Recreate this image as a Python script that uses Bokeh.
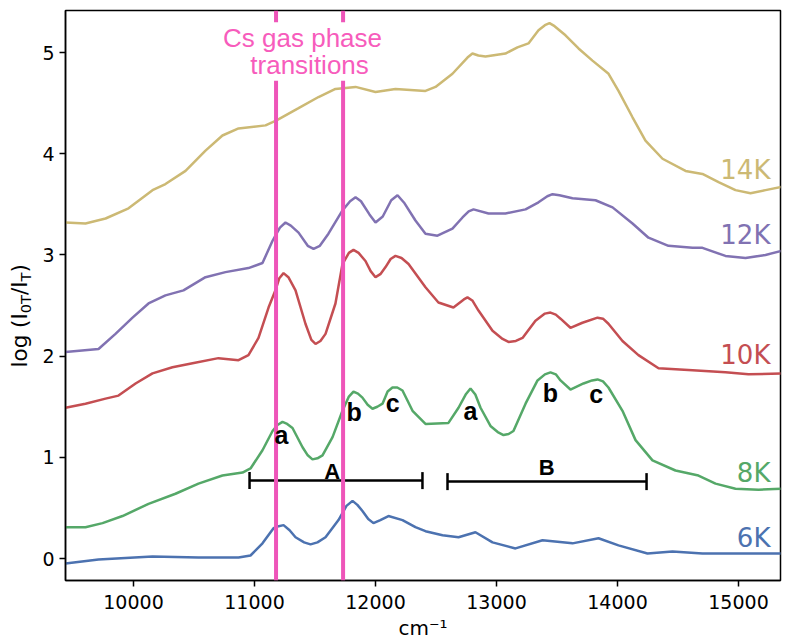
import math
from bokeh.plotting import figure
from bokeh.layouts import row
from bokeh.models import Range1d, Span, Label, FixedTicker
from bokeh.core.properties import value
from bokeh.embed import file_html
from bokeh.resources import INLINE

# ---------------- data (wavenumber in cm^-1, offset absorbance per temperature) ----------------
x_6k = [9438, 9711, 10157, 10537, 10868, 10967, 11066, 11157, 11200, 11240,
        11290, 11339, 11410, 11463, 11520, 11587, 11694, 11760, 11810, 11850,
        11892, 11940, 11983, 12040, 12107, 12223, 12330, 12413, 12554, 12686,
        12826, 12967, 13157, 13380, 13628, 13843, 14008, 14248, 14454, 14702,
        15033, 15388]
y_6k = [-0.05, -0.01, 0.02, 0.01, 0.01, 0.03, 0.15, 0.30, 0.32, 0.33,
        0.28, 0.21, 0.16, 0.14, 0.16, 0.21, 0.38, 0.52, 0.57, 0.53,
        0.47, 0.39, 0.35, 0.38, 0.42, 0.38, 0.31, 0.27, 0.23, 0.21,
        0.26, 0.16, 0.10, 0.18, 0.15, 0.20, 0.13, 0.05, 0.07, 0.05,
        0.05, 0.05]

x_8k = [9438, 9603, 9744, 9909, 10124, 10347, 10537, 10735, 10901, 10967,
        11066, 11149, 11190, 11231, 11270, 11314, 11397, 11440, 11479, 11520,
        11562, 11645, 11727, 11780, 11818, 11855, 11892, 11935, 11975, 12015,
        12058, 12100, 12140, 12180, 12223, 12306, 12413, 12603, 12686, 12745,
        12785, 12825, 12868, 12950, 13010, 13058, 13100, 13140, 13240, 13339,
        13400, 13446, 13490, 13529, 13611, 13719, 13790, 13835, 13880, 13925,
        14041, 14149, 14289, 14479, 14669, 14810, 14975, 15165, 15388]
y_8k = [0.31, 0.31, 0.35, 0.42, 0.54, 0.64, 0.74, 0.82, 0.85, 0.89,
        1.07, 1.26, 1.32, 1.35, 1.33, 1.29, 1.10, 1.02, 0.98, 0.99,
        1.02, 1.20, 1.46, 1.60, 1.65, 1.63, 1.59, 1.52, 1.48, 1.50,
        1.53, 1.65, 1.69, 1.69, 1.66, 1.46, 1.33, 1.34, 1.49, 1.62,
        1.68, 1.62, 1.49, 1.31, 1.25, 1.22, 1.23, 1.26, 1.53, 1.76,
        1.82, 1.84, 1.82, 1.76, 1.67, 1.73, 1.76, 1.77, 1.75, 1.69,
        1.46, 1.17, 0.97, 0.87, 0.82, 0.74, 0.69, 0.68, 0.69]

x_10k = [9438, 9603, 9769, 9876, 10017, 10157, 10322, 10488, 10702, 10868,
         10950, 11033, 11116, 11173, 11205, 11240, 11280, 11339, 11421, 11470,
         11504, 11545, 11587, 11669, 11727, 11780, 11818, 11860, 11917, 11960,
         12000, 12040, 12083, 12125, 12165, 12215, 12273, 12413, 12520, 12644,
         12730, 12760, 12800, 12851, 12967, 13050, 13099, 13160, 13215, 13322,
         13400, 13446, 13490, 13529, 13611, 13710, 13835, 13880, 13925, 14041,
         14173, 14339, 14620, 14892, 15082, 15388]
y_10k = [1.49, 1.53, 1.58, 1.61, 1.73, 1.83, 1.89, 1.93, 1.98, 1.96,
         2.01, 2.18, 2.48, 2.65, 2.77, 2.82, 2.78, 2.65, 2.32, 2.16,
         2.12, 2.15, 2.22, 2.52, 2.91, 3.02, 3.05, 3.02, 2.94, 2.84,
         2.78, 2.81, 2.88, 2.96, 2.99, 2.97, 2.91, 2.68, 2.53, 2.48,
         2.56, 2.58, 2.55, 2.45, 2.25, 2.17, 2.14, 2.15, 2.18, 2.35,
         2.42, 2.43, 2.41, 2.37, 2.28, 2.33, 2.38, 2.37, 2.32, 2.15,
         2.01, 1.88, 1.86, 1.84, 1.82, 1.83]

x_12k = [9438, 9711, 9851, 9992, 10124, 10264, 10413, 10595, 10760, 10950,
         11066, 11149, 11210, 11256, 11300, 11364, 11440, 11488, 11540, 11611,
         11727, 11790, 11835, 11880, 11950, 12000, 12060, 12130, 12182, 12240,
         12330, 12413, 12512, 12636, 12719, 12770, 12810, 12934, 13074, 13240,
         13347, 13420, 13463, 13520, 13628, 13818, 13959, 14124, 14256, 14421,
         14620, 14702, 14892, 15058, 15223, 15388]
y_12k = [2.04, 2.07, 2.22, 2.38, 2.52, 2.60, 2.65, 2.78, 2.83, 2.87,
         2.92, 3.14, 3.27, 3.32, 3.29, 3.22, 3.09, 3.06, 3.09, 3.21,
         3.44, 3.53, 3.57, 3.53, 3.40, 3.32, 3.38, 3.54, 3.59, 3.51,
         3.34, 3.21, 3.19, 3.26, 3.37, 3.43, 3.45, 3.41, 3.41, 3.45,
         3.52, 3.58, 3.60, 3.59, 3.56, 3.54, 3.47, 3.31, 3.17, 3.09,
         3.07, 3.07, 2.99, 2.97, 3.00, 3.05]

x_14k = [9438, 9603, 9769, 9959, 10157, 10264, 10430, 10595, 10735, 10868,
         11091, 11182, 11364, 11529, 11669, 11835, 12000, 12165, 12413, 12496,
         12636, 12760, 12801, 12850, 12909, 13074, 13173, 13264, 13347, 13400,
         13438, 13480, 13570, 13678, 13793, 13926, 14008, 14124, 14231, 14372,
         14562, 14702, 14835, 14975, 15099, 15223, 15388]
y_14k = [3.32, 3.31, 3.36, 3.46, 3.64, 3.70, 3.83, 4.03, 4.18, 4.25,
         4.28, 4.33, 4.45, 4.56, 4.64, 4.66, 4.61, 4.64, 4.62, 4.66,
         4.79, 4.95, 4.99, 4.97, 4.96, 4.99, 5.05, 5.09, 5.22, 5.27,
         5.29, 5.26, 5.17, 5.04, 4.92, 4.79, 4.62, 4.36, 4.13, 3.95,
         3.83, 3.80, 3.72, 3.64, 3.61, 3.64, 3.68]

temp_names = ["6K", "8K", "10K", "12K", "14K"]
temp_colors = ["#4C72B0", "#55A868", "#C44E52", "#8172B2", "#CCB974"]
temp_label_x = 15264
temp_label_y = [0.20, 0.85, 2.01, 3.20, 3.84]

cs_lines = [11178, 11732]          # Cs D1 / D2 gas-phase transitions
cs_text = ["Cs gas phase", "transitions"]
cs_text_x = [11397, 11455]
cs_text_y = [5.141, 4.878]

peak_names = ["a", "b", "c", "a", "b", "c"]
peak_x = [11223, 11823, 12143, 12785, 13446, 13824]
peak_y = [1.219, 1.449, 1.541, 1.456, 1.640, 1.630]

region_names = ["A", "B"]
region_start = [10959, 12595]
region_end = [12388, 14240]
region_y = [0.77, 0.76]
region_label_x = [11642, 13415]
region_label_y = [0.863, 0.895]

x_ticks = [10000, 11000, 12000, 13000, 14000, 15000]
y_ticks = [0, 1, 2, 3, 4, 5]

# ---------------- main figure ----------------
W, H = 785, 644
YLAB_W = 38
p = figure(width=W - YLAB_W, height=H, output_backend="svg", toolbar_location=None,
           x_range=Range1d(9438, 15347), y_range=Range1d(-0.217, 5.415),
           min_border_left=27, min_border_right=5, min_border_top=10, min_border_bottom=64)
p.background_fill_color = "white"
p.border_fill_color = "white"
p.outline_line_color = "black"
p.outline_line_width = 1.5
p.grid.visible = False

for ax in (p.xaxis[0], p.yaxis[0]):
    ax.axis_line_width = 1.5
    ax.axis_line_color = "black"
    ax.major_tick_line_width = 1.5
    ax.major_tick_line_color = "black"
    ax.major_tick_out = 6
    ax.major_tick_in = 0
    ax.minor_tick_line_color = None
    ax.major_label_text_font = "DejaVu Sans"
    ax.major_label_text_font_size = "19px"
    ax.major_label_text_color = "black"
p.xaxis.ticker = FixedTicker(ticks=x_ticks)
p.yaxis.ticker = FixedTicker(ticks=y_ticks)
p.xaxis.major_label_standoff = 8
p.yaxis.major_label_standoff = 5
p.xaxis.axis_label = "cm\u207b\u00b9"
p.xaxis.axis_label_text_font = "DejaVu Sans"
p.xaxis.axis_label_text_font_size = "20px"
p.xaxis.axis_label_text_font_style = "normal"
p.xaxis.axis_label_text_color = "black"
p.xaxis.axis_label_standoff = 4

# curves
for xs, ys, c in zip([x_6k, x_8k, x_10k, x_12k, x_14k],
                     [y_6k, y_8k, y_10k, y_12k, y_14k], temp_colors):
    p.line(xs, ys, line_color=c, line_width=2.5)

# temperature labels
p.text(x=[temp_label_x] * len(temp_names), y=temp_label_y, text=temp_names,
       text_color=temp_colors, text_font=value("DejaVu Sans"), text_font_size="26px",
       text_align="right", text_baseline="middle")

# region bars A / B
p.segment(x0=region_start, y0=region_y, x1=region_end, y1=region_y,
          line_color="black", line_width=2.5)
p.scatter(x=region_start + region_end, y=region_y + region_y, marker="dash",
          angle=math.pi / 2, size=17, line_color="black", line_width=2.5)

# Cs gas phase lines with their label (white box interrupts the lines)
pink = "#EE55B9"
for loc in cs_lines:
    p.add_layout(Span(location=loc, dimension="height", line_color=pink, line_width=4))
for txt, lx, ly in reversed(list(zip(cs_text, cs_text_x, cs_text_y))):
    p.add_layout(Label(x=lx, y=ly, text=txt, text_font="Liberation Sans",
                       text_font_size="26px", text_color="#F75CBC",
                       text_align="center", text_baseline="middle",
                       background_fill_color="white", background_fill_alpha=1.0,
                       padding=1))

# region letters and peak letters
for txt, lx, ly in zip(region_names, region_label_x, region_label_y):
    p.add_layout(Label(x=lx, y=ly, text=txt, text_font="Liberation Sans",
                       text_font_style="bold", text_font_size="22px", text_color="black",
                       text_align="center", text_baseline="middle"))
for txt, lx, ly in zip(peak_names, peak_x, peak_y):
    p.add_layout(Label(x=lx, y=ly, text=txt, text_font="Liberation Sans",
                       text_font_style="bold", text_font_size="25px", text_color="black",
                       text_align="center", text_baseline="middle"))

# ---------------- y-axis label strip: log (I_0T / I_T) ----------------
q = figure(width=YLAB_W, height=H, output_backend="svg", toolbar_location=None,
           x_range=Range1d(0, YLAB_W), y_range=Range1d(0, H),
           x_axis_location=None, y_axis_location=None, min_border=0)
q.outline_line_color = None
q.grid.visible = False
q.background_fill_color = "white"
q.border_fill_color = "white"

adv = {"l": 0.278, "o": 0.612, "g": 0.635, " ": 0.318, "(": 0.390, "I": 0.295,
       "0": 0.636, "T": 0.611, "/": 0.337, ")": 0.390}
parts = [("log (I", 21.5, 0.0), ("0T", 14.5, 4.0), ("/I", 21.5, 0.0), ("T", 14.5, 4.0), (")", 21.5, 0.0)]
start_px = 357.0      # pixels below the top edge where the label begins
base_x = 26.7         # baseline position, pixels from the left edge
for txt, fs, shift in parts:
    q.text(x=[0], y=[H], x_offset=base_x + shift - 0.346 * fs, y_offset=start_px,
           text=[txt], angle=math.pi / 2,
           text_font=value("DejaVu Sans"), text_font_size=f"{fs}px",
           text_align="left", text_baseline="middle", text_color="black")
    start_px -= sum(adv[ch] for ch in txt) * fs

layout = row(q, p)
open("out.html", "w").write(file_html(layout, INLINE))
